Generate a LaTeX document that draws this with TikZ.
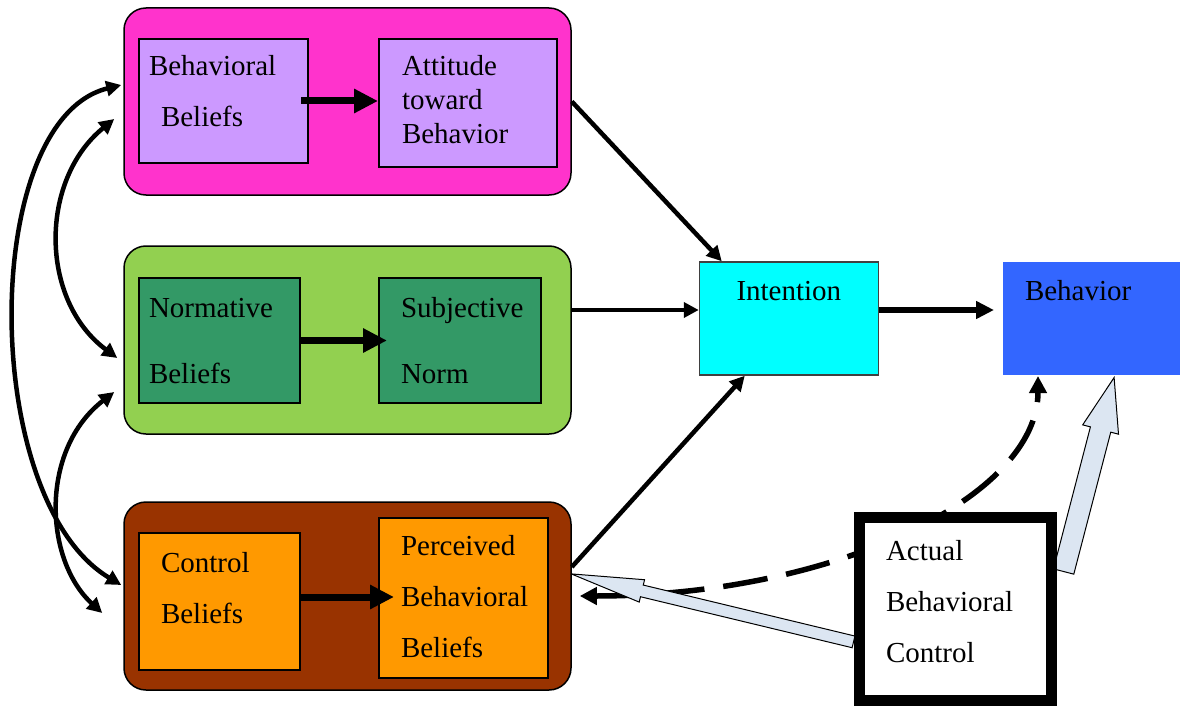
\documentclass[tikz,border=0pt]{standalone}
\usepackage{fontspec}
\setmainfont{Liberation Serif}
\usetikzlibrary{arrows.meta, calc, shapes.arrows, backgrounds}
\definecolor{tpbpink}{RGB}{255,51,204}
\definecolor{tpblav}{RGB}{204,153,255}
\definecolor{tpblime}{RGB}{146,208,80}
\definecolor{tpbgreen}{RGB}{51,153,102}
\definecolor{tpbbrown}{RGB}{153,51,0}
\definecolor{tpborange}{RGB}{255,153,0}
\definecolor{tpbcyan}{RGB}{0,255,255}
\definecolor{tpbblue}{RGB}{51,102,255}
\definecolor{tpbpale}{RGB}{220,230,242}
\newcommand{\tpbpad}[1]{\parindent=0pt\leftskip=#1pt\relax\noindent\rule{0pt}{22pt}}
\newcommand{\tpbbot}[1]{\rule[-#1pt]{0pt}{#1pt}\par}
\tikzset{
  lead/.style    = {font=\fontsize{29}{#1}\selectfont},
  grpbox/.style  = {draw=black, line width=1.5pt, rounded corners=22pt,
                    inner sep=0pt, minimum width=447pt},
  inbox/.style   = {draw=black, line width=2pt, inner sep=0pt, align=left},
  thkarr/.style  = {line width=7pt, -{Triangle[length=24pt, width=23pt]}},
  mainarr/.style = {line width=4.5pt, -{Triangle[length=15pt, width=15pt]}},
  looparr/.style = {line width=4.5pt,
                    {Triangle[length=15pt, width=15pt]}-{Triangle[length=15pt, width=15pt]}},
  dasharr/.style = {line width=5.5pt, dash pattern=on 45pt off 19pt,
                    {Triangle[length=17pt, width=17pt]}-{Triangle[length=17pt, width=17pt]}},
  blkarr/.style  = {single arrow, draw=black, line width=1pt, fill=tpbpale,
                    inner sep=0pt, text depth=0pt, single arrow head indent=0pt,
                    anchor=tail},
}

\begin{document}
\begin{tikzpicture}[x=1pt, y=-1pt]
  \useasboundingbox (0,0) rectangle (1180,706);

  \node[grpbox, fill=tpbpink, minimum height=187pt] (attg) at (347.5,101.5) {};
  \node[grpbox, fill=tpblime, minimum height=188pt] (normg) at (347.5,340) {};
  \node[grpbox, fill=tpbbrown, minimum height=188pt] (ctrlg) at (347.5,596) {};

  \node[inbox, lead=51, fill=tpblav, text width=169pt, minimum height=124pt] (bb)
    at (223.5,101) {\tpbpad{10}Behavioral\\\hspace*{12pt}Beliefs\tpbbot{21}};
  \node[inbox, lead=34, fill=tpblav, text width=178pt, minimum height=128pt] (att)
    at (468,103) {\tpbpad{23}Attitude\\toward\\Behavior\tpbbot{8}};
  \node[inbox, lead=66, fill=tpbgreen, text width=161pt, minimum height=125pt] (nb)
    at (219.5,340.5) {\tpbpad{10}Normative\\Beliefs\tpbbot{3}};
  \node[inbox, lead=66, fill=tpbgreen, text width=162pt, minimum height=125pt] (sn)
    at (460,340.5) {\tpbpad{22}Subjective\\Norm\tpbbot{3}};
  \node[inbox, lead=51, fill=tpborange, text width=161pt, minimum height=137pt] (cb)
    at (219.5,601.5) {\tpbpad{22}Control\\Beliefs\tpbbot{30}};
  \node[inbox, lead=51, fill=tpborange, text width=169pt, minimum height=160pt] (pbb)
    at (463.5,598) {\tpbpad{22}Perceived\\Behavioral\\Beliefs\tpbbot{6}};

  \draw[thkarr, shorten <=-8pt] (bb.east) -- (bb.east -| att.west);
  \draw[thkarr, shorten >=-9pt] (nb.east) -- (nb.east -| sn.west);
  \coordinate (cbo) at ([yshift=4.5pt]cb.east);
  \draw[thkarr, shorten >=-16pt] (cbo) -- (cbo -| pbb.west);

  \node[inbox, lead=34, fill=tpbcyan, draw=black!75, line width=1.5pt,
        text width=179pt, minimum height=113pt] (int)
    at (789,318.5) {\tpbpad{37}Intention\tpbbot{59}};
  \node[inbox, lead=34, fill=tpbblue, draw=none,
        text width=177pt, minimum height=113pt] (beh)
    at (1091.5,318.5) {\tpbpad{22}Behavior\tpbbot{59}};

  \draw[mainarr] (attg.east) -- ([xshift=23pt]int.north west);
  \coordinate (ngo) at ([yshift=30pt]normg.east);
  \draw[mainarr] (ngo) -- (ngo -| int.west);
  \draw[mainarr] ([yshift=29pt]ctrlg.east) -- ([xshift=46pt]int.south west);
  \coordinate (io) at ([yshift=8.5pt]int.east);
  \draw[line width=6pt, -{Triangle[length=18pt, width=17pt]}, shorten >=8pt]
    (io) -- (io -| beh.west);

  \node[inbox, lead=51, fill=white, line width=11pt, text width=192pt,
        minimum height=183pt] (abc)
    at (955.5,609) {\tpbpad{26.5}Actual\\Behavioral\\Control\tpbbot{18}};

  \begin{scope}[on background layer]
    \coordinate (dtop) at ([xshift=36pt]beh.south west);
    \coordinate (dbot) at ([xshift=8pt]ctrlg.east);
    \draw[dasharr] (dbot) .. controls +(254,0) and +(0,121) .. (dtop);
    \coordinate (taila) at ([yshift=-33pt]abc.west);
    \coordinate (tipa) at ([yshift=22pt]ctrlg.east);
    \path let \p1 = ($(tipa)-(taila)$), \n1 = {veclen(\x1,\y1)},
               \n2 = {atan2(\y1,\x1)} in
      node[blkarr, text height=11pt, single arrow head extend=5.5pt,
           single arrow tip angle=18, minimum height=\n1, rotate=\n2] (blka) at (taila) {};
    \coordinate (tailb) at ([xshift=6.5pt, yshift=37pt]abc.east);
    \coordinate (tipb) at ([xshift=22.5pt, yshift=-2pt]beh.south);
    \path let \p1 = ($(tipb)-(tailb)$), \n1 = {veclen(\x1,\y1)},
               \n2 = {atan2(\y1,\x1)} in
      node[blkarr, text height=20pt, single arrow head extend=8pt,
           single arrow tip angle=38, minimum height=\n1, rotate=\n2] (blkb) at (tailb) {};
  \end{scope}

  \draw[looparr] ([xshift=-2pt, yshift=16.5pt]attg.west)
    .. controls +(-142,35) and +(-142,-85) .. ([xshift=-2pt, yshift=11pt]ctrlg.west);
  \draw[looparr] ([xshift=-9pt, yshift=-17.5pt]attg.west)
    .. controls +(-75,61) and +(-78,-58) .. ([xshift=-6pt, yshift=-18pt]normg.west);
  \draw[looparr] ([xshift=-9pt, yshift=-52pt]normg.west)
    .. controls +(-75,58) and +(-58,-53) .. ([xshift=-21pt, yshift=-17pt]ctrlg.west);
\end{tikzpicture}
\end{document}
